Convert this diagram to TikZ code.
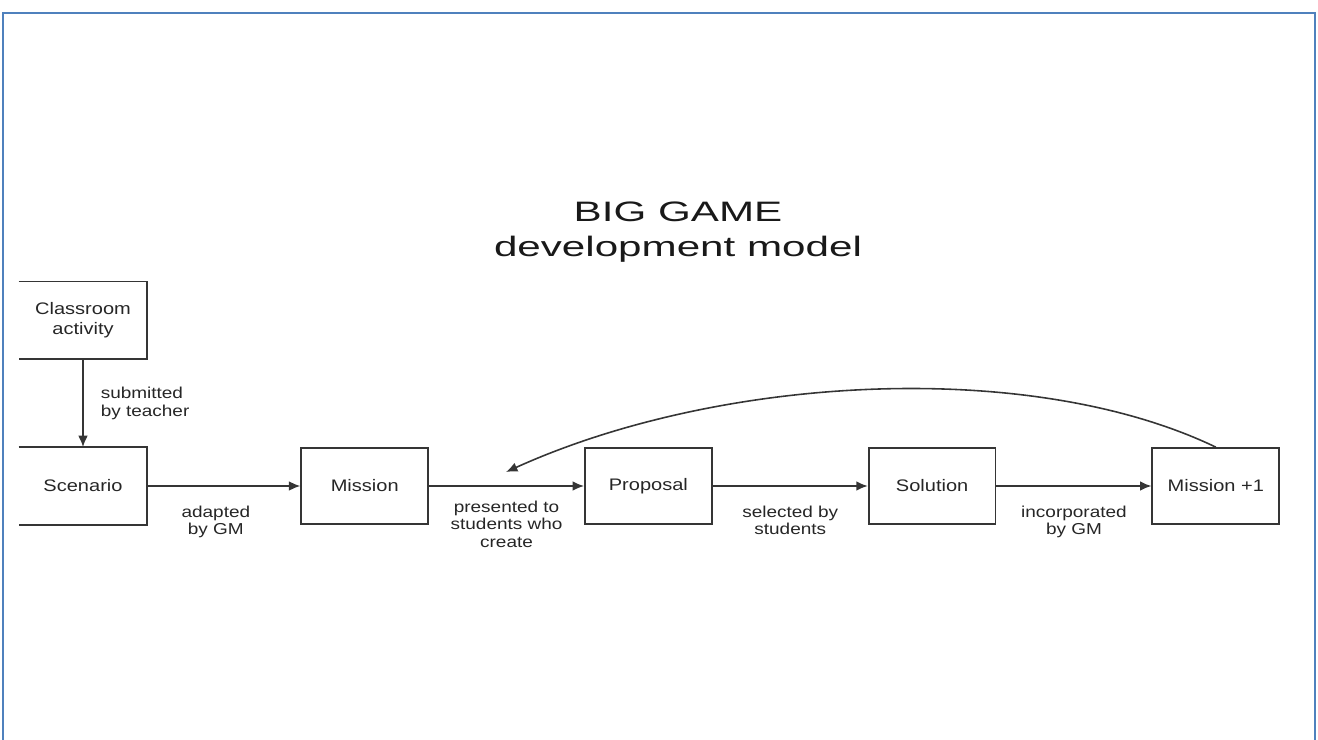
\documentclass[tikz,border=0pt]{standalone}
\usepackage{fontspec}
\setmainfont{Liberation Sans}
\newfontfamily\titlefont[FakeStretch=1.5]{Liberation Sans}
\newfontfamily\boxfont[FakeStretch=1.2]{Liberation Sans}
\usetikzlibrary{positioning}
\usetikzlibrary{arrows.meta}
\definecolor{framecolor}{HTML}{4F81BD}
\definecolor{linecolor}{HTML}{353535}
\tikzset{
        % Boxes of the model
        node_box/.style={rectangle, draw=linecolor, line width=1pt, align=center, inner sep=0pt,
                         minimum width=2.54cm, minimum height=1.52cm, text=black!85,
                         font=\boxfont\fontsize{9.5}{11}\selectfont},
        % Boxes cut at the left edge
        node_cut/.style={node_box, draw=none},
        % Labels on the arrows
        node_label/.style={align=center, inner sep=0pt, text=black!85,
                           font=\boxfont\fontsize{9}{10}\selectfont},
        % Arrows
        edge_arrow/.style={draw=linecolor, line width=0.9pt, -{Latex[length=6.5pt,width=5.5pt]}}
}
\begin{document}
\begin{tikzpicture}[x=0.02cm, y=-0.02cm, node distance=3.1cm]
    \useasboundingbox (0,0) rectangle (1318,740);
    \draw[framecolor, line width=1.2pt] (3,740) -- (3,13) -- (1315,13) -- (1315,740);

    \node[align=center, text=black!90, font=\titlefont\fontsize{16}{19.5}\selectfont] (title) at (678,232)
        {BIG GAME\\development model};

    \node[node_cut] (scenario) at (83,486) {Scenario};
    \node[node_cut, above=1.76cm of scenario] (classroom) {Classroom\\activity};
    \node[node_box, right=3.06cm of scenario] (mission) {Mission};
    \node[node_box, right=of mission] (proposal) {Proposal};
    \node[node_box, right=of proposal] (solution) {Solution};
    \node[node_box, right=of solution] (missionnext) {Mission +1};
    \coordinate (back) at (506,472);

    \draw[linecolor, line width=1pt] (classroom.north west) -- (classroom.north east)
        -- (classroom.south east) -- (classroom.south west);
    \draw[linecolor, line width=1pt] (scenario.north west) -- (scenario.north east)
        -- (scenario.south east) -- (scenario.south west);

    \draw[edge_arrow] (classroom) -- node[node_label, right=0.34cm, align=left] {submitted\\by teacher} (scenario);
    \draw[edge_arrow] (scenario) -- node[node_label, below=0.38cm, xshift=-0.16cm] {adapted\\by GM} (mission);
    \draw[edge_arrow] (mission) -- node[node_label, below=0.28cm] {presented to\\students who\\create} (proposal);
    \draw[edge_arrow] (proposal) -- node[node_label, below=0.38cm] {selected by\\students} (solution);
    \draw[edge_arrow] (solution) -- node[node_label, below=0.38cm] {incorporated\\by GM} (missionnext);
    \draw[edge_arrow] (missionnext.north) .. controls (1030,358) and (720,375) .. (back);
\end{tikzpicture}
\end{document}
